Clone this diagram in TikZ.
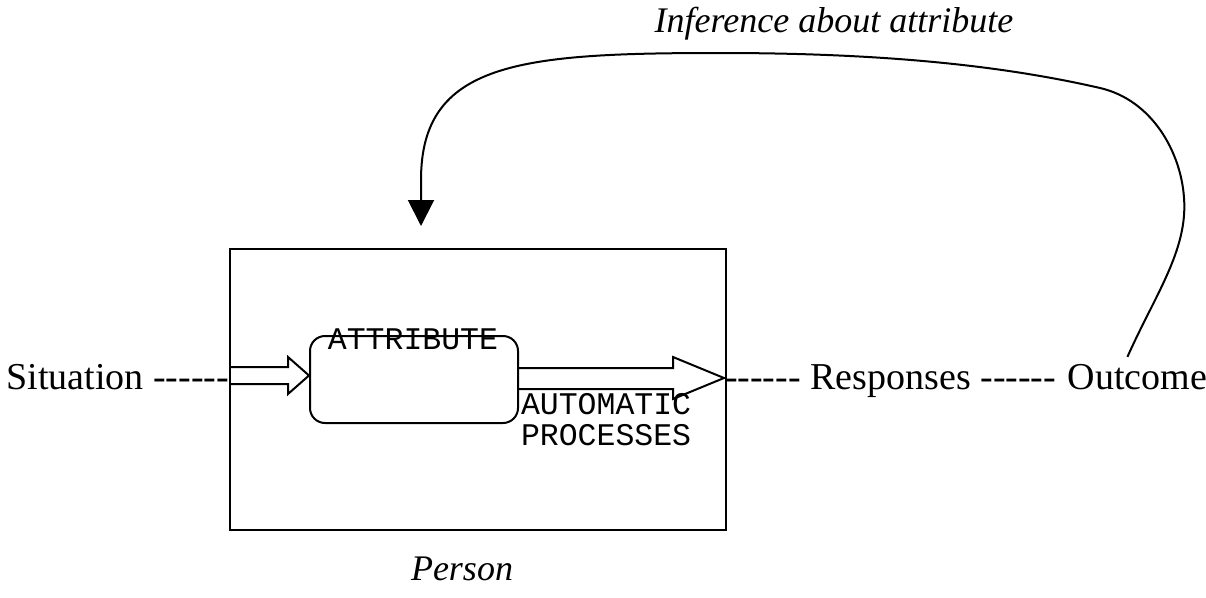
\documentclass[tikz,border=0pt]{standalone}
\usepackage{fontspec}
\setmainfont{Liberation Serif}[Ligatures=TeXOff]
\setmonofont{Liberation Mono}[Ligatures=TeXOff]
\usetikzlibrary{arrows.meta,calc}
\begin{document}
\begin{tikzpicture}[x=1pt,y=-1pt,
  line width=2pt,
  txt/.style={inner sep=0pt, font=\fontsize{38}{44}\selectfont},
  ittxt/.style={inner sep=0pt, font=\fontsize{36}{42}\selectfont\itshape},
  monotxt/.style={inner sep=0pt, font=\fontsize{31.5}{36}\selectfont\ttfamily},
  frame/.style={draw, inner sep=0pt, anchor=north west},
  blockarrow/.style={draw, line width=2pt, line join=miter},
  feedback/.style={draw, line width=2pt, -{Triangle[width=26pt,length=26pt]}}
]
\useasboundingbox (0,0) rectangle (1206,597);

% person frame and attribute box
\node (person) [frame, minimum width=496pt, minimum height=281pt] at (229,248) {};
\node (attr) [frame, rounded corners=15pt, minimum width=208pt, minimum height=87pt] at (309,335) {};
\node (attrlbl) [monotxt, anchor=base] at (413,349) {ATTRIBUTE};
\node (auto1) [monotxt, anchor=base west] at (520,414) {AUTOMATIC};
\node (auto2) [monotxt, anchor=base west] at (520,445) {PROCESSES};

% hollow block arrows
\draw[blockarrow] (229,367) -- (288,367) -- (288,357) -- (309,375.5) -- (288,394) -- (288,384) -- (229,384);
\draw[blockarrow] (517,368) -- (673,368) -- (673,357) -- (724,378) -- (673,399) -- (673,389) -- (517,389);

% side labels
\node (sit) [txt, anchor=base east] at (230,389) {Situation ------};
\node (resp) [txt, anchor=base west] at (724,389) {------ Responses ------};
\node (outc) [txt, anchor=base west] at ([xshift=9.5pt]resp.base east) {Outcome};

% captions
\node (inf) [ittxt, anchor=base] at (834,32) {Inference about attribute};
\node (plbl) [ittxt, anchor=base] at (462,580) {Person};

% feedback loop from the outcome back onto the person
\coordinate (fbstart) at ($(outc.north)+(-10,-6)$);
\coordinate (fbtip) at (421,226);
\draw[feedback] (fbstart) .. controls (1155,295) and (1188,250) .. (1184,198)
  .. controls (1181,152) and (1152,100) .. (1100,88)
  .. controls (1000,65) and (880,53) .. (720,53)
  .. controls (520,53) and (421,62) .. (421,180) -- (fbtip);
\end{tikzpicture}
\end{document}
